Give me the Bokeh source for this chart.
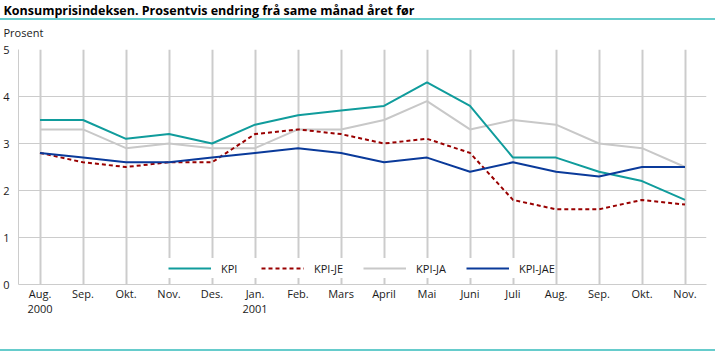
from bokeh.plotting import figure
from bokeh.models import Range1d, FixedTicker, Legend, LegendItem, Title, InlineStyleSheet
from bokeh.embed import file_html
from bokeh.resources import INLINE

months = ["Aug.\n2000", "Sep.", "Okt.", "Nov.", "Des.", "Jan.\n2001", "Feb.", "Mars",
          "April", "Mai", "Juni", "Juli", "Aug.", "Sep.", "Okt.", "Nov."]
kpi = [3.5, 3.5, 3.1, 3.2, 3.0, 3.4, 3.6, 3.7, 3.8, 4.3, 3.8, 2.7, 2.7, 2.4, 2.2, 1.8]
kpi_je = [2.8, 2.6, 2.5, 2.6, 2.6, 3.2, 3.3, 3.2, 3.0, 3.1, 2.8, 1.8, 1.6, 1.6, 1.8, 1.7]
kpi_ja = [3.3, 3.3, 2.9, 3.0, 2.9, 2.9, 3.3, 3.3, 3.5, 3.9, 3.3, 3.5, 3.4, 3.0, 2.9, 2.5]
kpi_jae = [2.8, 2.7, 2.6, 2.6, 2.7, 2.8, 2.9, 2.8, 2.6, 2.7, 2.4, 2.6, 2.4, 2.3, 2.5, 2.5]
y_ticks = [0, 1, 2, 3, 4, 5]

title_text = "Konsumprisindeksen. Prosentvis endring frå same månad året før"
unit_text = "Prosent"

FONT = "Open Sans"
GRID = "#cccccc"
TEXT = "#1a1a1a"
RULE = "#66cccc"

xs = list(range(len(months)))

p = figure(frame_width=688, frame_height=235, output_backend="svg", toolbar_location=None,
           title=None,
           x_range=Range1d(-0.5, len(months) - 0.5), y_range=Range1d(0, 5),
           min_border_left=17, min_border_right=10, min_border_top=49, min_border_bottom=67)
p.outline_line_color = None
p.background_fill_color = "white"
p.border_fill_color = "white"

p.xaxis.ticker = FixedTicker(ticks=xs)
p.xaxis.major_label_overrides = {i: m for i, m in enumerate(months)}
p.xaxis.major_tick_line_color = None
p.xaxis.major_tick_out = 0
p.xaxis.major_tick_in = 0
p.xaxis.minor_tick_line_color = None
p.xaxis.axis_line_color = GRID
p.xaxis.major_label_standoff = 1
p.xaxis.major_label_text_font = FONT
p.xaxis.major_label_text_font_size = "11px"
p.xaxis.major_label_text_color = TEXT
p.xaxis.major_label_text_line_height = 1.0

p.yaxis.ticker = FixedTicker(ticks=y_ticks)
p.yaxis.major_tick_line_color = None
p.yaxis.major_tick_out = 0
p.yaxis.major_tick_in = 0
p.yaxis.minor_tick_line_color = None
p.yaxis.axis_line_color = GRID
p.yaxis.major_label_standoff = 9
p.yaxis.major_label_text_font = FONT
p.yaxis.major_label_text_font_size = "11px"
p.yaxis.major_label_text_color = TEXT

p.xgrid.ticker = FixedTicker(ticks=xs)
p.xgrid.grid_line_color = GRID
p.xgrid.grid_line_width = 2
p.ygrid.ticker = FixedTicker(ticks=y_ticks)
p.ygrid.grid_line_color = GRID
p.ygrid.grid_line_width = 1

r_ja = p.line(xs, kpi_ja, line_color="#c8c8c8", line_width=2)
r_kpi = p.line(xs, kpi, line_color="#109c9c", line_width=2)
r_je = p.line(xs, kpi_je, line_color="#990000", line_width=2, line_dash="4 3")
r_jae = p.line(xs, kpi_jae, line_color="#0a3a9a", line_width=2)

legend = Legend(items=[LegendItem(label="KPI", renderers=[r_kpi]),
                       LegendItem(label="KPI-JE", renderers=[r_je]),
                       LegendItem(label="KPI-JA", renderers=[r_ja]),
                       LegendItem(label="KPI-JAE", renderers=[r_jae])],
                orientation="horizontal", location=(150, 6),
                glyph_width=43, glyph_height=20, label_height=20,
                label_standoff=10, spacing=20,
                padding=3, margin=0, border_line_color=None,
                background_fill_color="white", background_fill_alpha=1,
                label_text_font=FONT, label_text_font_size="11px", label_text_color=TEXT)
p.add_layout(legend)

p.add_layout(Title(text=unit_text, align="left", offset=-15, standoff=19.6,
                   text_font=FONT, text_font_size="11px", text_font_style="normal",
                   text_color=TEXT), "above")
p.add_layout(Title(text=title_text, align="left", offset=-15, standoff=-13.2,
                   text_font=FONT, text_font_size="12.5px", text_font_style="bold",
                   text_color="#000000"), "above")

css = """
:host { position: relative; }
:host::before { content: ""; position: absolute; left: 0; top: 18px; width: 715px; height: 2px;
                background: %s; z-index: 10; pointer-events: none; }
:host::after { content: ""; position: absolute; left: 0; top: 349px; width: 715px; height: 2px;
               background: %s; z-index: 10; pointer-events: none; }
""" % (RULE, RULE)
p.stylesheets = [InlineStyleSheet(css=css)]

open("out.html", "w").write(file_html(p, INLINE))
